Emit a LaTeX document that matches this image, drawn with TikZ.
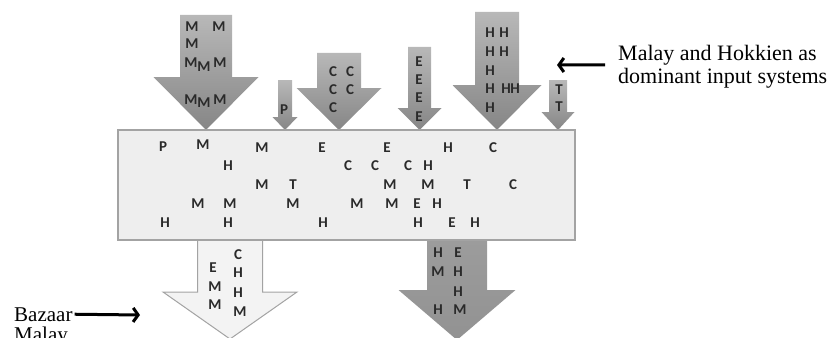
\documentclass[tikz,border=0pt]{standalone}
\usepackage{fontspec}
\setmainfont{Liberation Serif}
\newfontfamily\lettersfont{Carlito}
\usetikzlibrary{arrows.meta}
\definecolor{inflow top}{HTML}{B8B8B8}
\definecolor{inflow bottom}{HTML}{868686}
\definecolor{mix area}{HTML}{EEEEEE}
\definecolor{mix edge}{HTML}{A3A3A3}
\definecolor{bazaar area}{HTML}{F3F3F3}
\definecolor{letter ink}{HTML}{2A2A2A}
% block arrow pointing down: centre x, half shaft, top, head start, half head, tip
\newcommand\flowarrow[6]{({#1-#2},#3) -- ({#1+#2},#3) -- ({#1+#2},#4) -- ({#1+#5},#4)
    -- (#1,#6) -- ({#1-#5},#4) -- ({#1-#2},#4) -- cycle}
\tikzset{inflow/.style={top color=inflow top, bottom color=inflow bottom},
    outflow/.style={top color=inflow top!85!black, bottom color=inflow bottom!90!white},
    bazaar/.style={fill=bazaar area, draw=mix edge, line width=1pt},
    mix/.style={fill=mix area, draw=mix edge, line width=1.5pt, inner sep=0pt},
    letter/.style={font=\lettersfont\bfseries\fontsize{15}{15}\selectfont,
        text=letter ink, inner sep=0pt},
    note/.style={font=\fontsize{22}{23}\selectfont, inner sep=0pt, anchor=base west},
    pointer/.style={line width=3pt, -{Straight Barb[length=5pt,width=14pt]}}}

\begin{document}
\begin{tikzpicture}[x=1pt, y=-1pt]
    \useasboundingbox (0,0) rectangle (829,337);
    % input systems
    \shade[inflow] \flowarrow{206}{26}{15}{77}{52.5}{130};
    \shade[inflow] \flowarrow{285}{7}{80}{117}{12.5}{130};
    \shade[inflow] \flowarrow{339}{22}{53}{88}{42.5}{130};
    \shade[inflow] \flowarrow{419.5}{11.5}{47}{108}{22}{130};
    \shade[inflow] \flowarrow{497}{22}{12}{85}{44.5}{130};
    \shade[inflow] \flowarrow{558}{9}{80}{112}{16.5}{130};
    % outputs
    \draw[bazaar] \flowarrow{230}{32.5}{235}{292}{67}{339};
    \shade[outflow] \flowarrow{457}{30}{235}{290}{58.5}{340};
    \node[mix, minimum width=457pt, minimum height=110pt] (mix) at (346.5,185) {};

    \foreach \ch/\x/\y [count=\i] in {M/192/27, M/219/27, M/192/44, M/191/63, M/204/67,
        M/220/63, M/191/100, M/204/103, M/220/100, P/284/110, C/333/72, C/350/72,
        C/333/90, C/350/90, C/333/108, E/419/62, E/419/80, E/419/98, E/419/117,
        H/490/33, H/504/33, H/490/52, H/504/52, H/490/71, H/490/89, H/506/89,
        H/515/89, H/490/108, T/559/90, T/559/107}
        \node[letter] (in\i) at (\x,\y) {\ch};
    \foreach \ch/\x/\y [count=\i] in {P/163/147, M/203/145, M/262/148, E/322/148,
        E/387/148, H/448/148, C/493/148, H/228/166, C/348/166, C/375/166, C/408/166,
        H/428/166, M/262/185, T/293/185, M/390/185, M/428/185, T/467/185, C/513/185,
        M/198/204, M/230/204, M/293/204, M/357/204, M/392/204, E/417/204, H/437/204,
        H/165/223, H/228/223, H/323/223, H/418/223, E/452/223, H/475/223}
        \node[letter] (mx\i) at (\x,\y) {\ch};
    \foreach \ch/\x/\y [count=\i] in {C/238/255, E/213/268, H/238/273, M/215/287,
        H/238/293, M/215/305, M/240/312, H/438/253, E/458/253, M/438/272, H/458/272,
        H/458/292, H/438/310, M/460/310}
        \node[letter] (out\i) at (\x,\y) {\ch};

    \node[note] (domA) at (618,60) {Malay and Hokkien as};
    \node[note] (domB) at (618,83) {dominant input systems};
    \node[note, font=\fontsize{21}{21}\selectfont] (bzA) at (14,321) {Bazaar};
    \node[note, font=\fontsize{21}{21}\selectfont] (bzB) at (14,341) {Malay};
    \coordinate (hkTip) at (557,65);
    \coordinate (bzTip) at (140,315);
    \draw[pointer] ([xshift=-13pt]domA.south west) -- (hkTip);
    \draw[pointer] ([xshift=2pt]bzA.east) -- (bzTip);
\end{tikzpicture}
\end{document}
